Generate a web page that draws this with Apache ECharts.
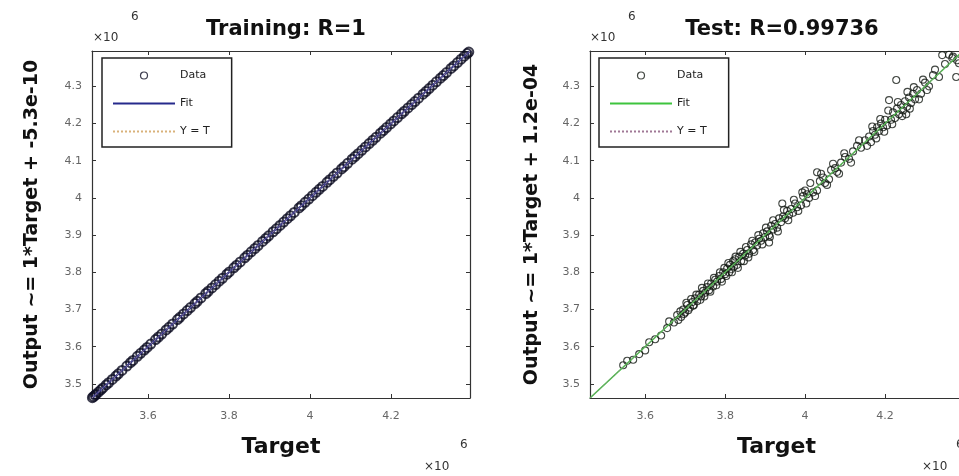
<!DOCTYPE html>
<html>
<head>
<meta charset="utf-8">
<title>Regression: Training and Test</title>
<script src="https://cdn.jsdelivr.net/npm/echarts@6/dist/echarts.min.js"></script>
<style>
  html, body { margin: 0; padding: 0; background: #fff; }
  #chart { width: 959px; height: 476px; }
</style>
</head>
<body>
<div id="chart"></div>
<script>
// All values are in units of 10^6.
const axisMin = 3.462;
const axisMax = 4.395;
const xTicks = [3.6, 3.8, 4.0, 4.2];
const yTicks = [3.5, 3.6, 3.7, 3.8, 3.9, 4.0, 4.1, 4.2, 4.3];

// Training set (R = 1): outputs coincide with targets.
const trainTarget = [3.463,3.466,3.470,3.472,3.478,3.484,3.489,3.497,3.503,3.512,3.521,3.527,3.536,3.548,3.557,3.563,3.574,3.582,3.591,3.598,3.607,3.619,3.626,3.634,3.645,3.652,3.661,3.673,3.679,3.688,3.697,3.705,3.716,3.722,3.731,3.743,3.749,3.758,3.767,3.776,3.784,3.795,3.801,3.812,3.819,3.828,3.839,3.846,3.855,3.864,3.872,3.883,3.891,3.898,3.909,3.917,3.926,3.935,3.944,3.952,3.961,3.973,3.979,3.988,3.997,4.006,4.015,4.023,4.031,4.042,4.049,4.058,4.067,4.078,4.084,4.093,4.104,4.111,4.119,4.128,4.137,4.146,4.155,4.163,4.174,4.181,4.189,4.199,4.207,4.216,4.226,4.233,4.242,4.251,4.259,4.268,4.279,4.286,4.294,4.303,4.312,4.322,4.329,4.337,4.348,4.355,4.364,4.373,4.381,4.388,4.392];
const trainOutput = [3.463,3.466,3.470,3.472,3.478,3.484,3.489,3.497,3.503,3.512,3.521,3.527,3.536,3.548,3.557,3.563,3.574,3.582,3.591,3.598,3.607,3.619,3.626,3.634,3.645,3.652,3.661,3.673,3.679,3.688,3.697,3.705,3.716,3.722,3.731,3.743,3.749,3.758,3.767,3.776,3.784,3.795,3.801,3.812,3.819,3.828,3.839,3.846,3.855,3.864,3.872,3.883,3.891,3.898,3.909,3.917,3.926,3.935,3.944,3.952,3.961,3.973,3.979,3.988,3.997,4.006,4.015,4.023,4.031,4.042,4.049,4.058,4.067,4.078,4.084,4.093,4.104,4.111,4.119,4.128,4.137,4.146,4.155,4.163,4.174,4.181,4.189,4.199,4.207,4.216,4.226,4.233,4.242,4.251,4.259,4.268,4.279,4.286,4.294,4.303,4.312,4.322,4.329,4.337,4.348,4.355,4.364,4.373,4.381,4.388,4.392];

// Test set (R = 0.99736).
const testTarget = [3.545,3.555,3.570,3.585,3.600,3.610,3.625,3.640,3.655,3.660,3.672,3.680,3.690,3.695,3.700,3.705,3.712,3.718,3.720,3.725,3.730,3.735,3.740,3.745,3.750,3.755,3.760,3.765,3.770,3.775,3.780,3.785,3.790,3.795,3.800,3.805,3.810,3.812,3.815,3.820,3.822,3.825,3.830,3.835,3.840,3.845,3.850,3.855,3.860,3.865,3.870,3.875,3.880,3.885,3.890,3.895,3.900,3.905,3.910,3.910,3.915,3.920,3.925,3.930,3.935,3.940,3.943,3.945,3.950,3.955,3.960,3.965,3.970,3.975,3.980,3.990,3.995,4.000,4.005,4.010,4.020,4.030,4.030,4.037,4.045,4.050,4.060,4.065,4.075,4.080,4.090,4.100,4.110,4.120,4.130,4.140,4.150,4.160,4.165,4.170,4.175,4.180,4.185,4.190,4.195,4.200,4.205,4.210,4.215,4.220,4.225,4.228,4.230,4.235,4.240,4.245,4.250,4.253,4.255,4.260,4.265,4.270,4.275,4.280,4.290,4.300,4.310,4.320,4.335,4.343,4.350,4.368,4.370,4.378,4.380,
  3.683,3.688,3.697,3.703,3.708,3.715,3.722,3.728,3.738,3.742,3.748,3.757,3.763,3.772,3.778,3.787,3.792,3.798,3.803,3.808,3.817,3.826,3.832,3.838,3.847,3.852,3.858,3.868,3.873,3.883,3.893,3.902,3.912,3.920,3.932,3.947,3.958,3.972,3.983,3.993,4.003,4.013,4.025,4.040,4.055,4.070,4.085,4.098,4.115,4.135,4.155,4.168,4.178,4.188,4.198,4.208,4.218,4.232,4.243,4.256,4.262,4.272,4.285,4.295,4.305,4.325,4.360,4.385];
const testOutput = [3.550,3.562,3.565,3.580,3.590,3.612,3.620,3.630,3.650,3.668,3.665,3.685,3.680,3.700,3.692,3.712,3.705,3.720,3.710,3.730,3.722,3.740,3.735,3.750,3.745,3.760,3.752,3.770,3.762,3.780,3.775,3.790,3.782,3.800,3.795,3.810,3.800,3.820,3.808,3.830,3.815,3.835,3.820,3.842,3.830,3.850,3.845,3.860,3.850,3.875,3.860,3.880,3.872,3.890,3.885,3.905,3.895,3.910,3.900,3.880,3.925,3.915,3.930,3.920,3.945,3.935,3.985,3.950,3.945,3.965,3.955,3.970,3.960,3.985,3.975,3.980,4.005,4.020,4.010,4.000,4.015,4.020,4.069,4.045,4.055,4.040,4.050,4.075,4.080,4.070,4.095,4.110,4.105,4.125,4.140,4.135,4.155,4.165,4.150,4.180,4.170,4.190,4.180,4.200,4.190,4.210,4.195,4.263,4.210,4.230,4.215,4.317,4.240,4.225,4.250,4.235,4.260,4.225,4.245,4.270,4.255,4.280,4.265,4.290,4.280,4.310,4.300,4.330,4.325,4.384,4.360,4.376,4.380,4.325,4.370,
  3.672,3.695,3.688,3.718,3.698,3.728,3.712,3.740,3.726,3.758,3.735,3.770,3.748,3.785,3.765,3.800,3.775,3.812,3.790,3.825,3.800,3.842,3.812,3.855,3.830,3.868,3.840,3.885,3.855,3.900,3.875,3.920,3.895,3.940,3.910,3.968,3.940,3.995,3.965,4.015,3.985,4.040,4.005,4.065,4.035,4.092,4.065,4.120,4.095,4.155,4.140,4.192,4.160,4.212,4.178,4.235,4.198,4.258,4.220,4.285,4.240,4.298,4.265,4.318,4.290,4.345,4.385,4.362];

// Fit and Y = T lines span the full axis range.
const lineEnds = [axisMin, axisMax];
const trainFit = [axisMin, axisMax];
const testFit = [axisMin + 0.00000000012, axisMax + 0.00000000012];

const pairs = (xs, ys) => xs.map((x, i) => [x, ys[i]]);

const FONT = 'DejaVu Sans';
const FRAME = '#333';

const grids = [
  { left: 92, top: 51, width: 378, height: 347 },
  { left: 590, top: 51, width: 373, height: 347 }
];

function xAxisFor(gridIndex, position, withLabels) {
  return {
    type: 'value', gridIndex, position,
    min: axisMin, max: axisMax,
    name: withLabels ? 'Target' : '',
    nameLocation: 'middle', nameGap: 38,
    nameTextStyle: { fontFamily: FONT, fontWeight: 'bold', fontSize: 22, color: '#111' },
    axisLine: { show: true, onZero: false, lineStyle: { color: FRAME, width: 1.2 } },
    axisTick: { show: true, inside: true, length: 4, customValues: xTicks, lineStyle: { color: FRAME } },
    axisLabel: { show: withLabels, customValues: xTicks, margin: 13, fontFamily: FONT, fontSize: 11, color: '#666' },
    splitLine: { show: false }
  };
}

function yAxisFor(gridIndex, position, withLabels, title, gap) {
  return {
    type: 'value', gridIndex, position,
    min: axisMin, max: axisMax,
    name: withLabels ? title : '',
    nameLocation: 'middle', nameGap: gap,
    nameTextStyle: { fontFamily: FONT, fontWeight: 'bold', fontSize: 19, color: '#111' },
    axisLine: { show: true, onZero: false, lineStyle: { color: FRAME, width: 1.2 } },
    axisTick: { show: true, inside: true, length: 4, customValues: yTicks, lineStyle: { color: FRAME } },
    axisLabel: { show: withLabels, customValues: yTicks, margin: 10, fontFamily: FONT, fontSize: 11, color: '#666' },
    splitLine: { show: false }
  };
}

// Line entries show only their stroke, without a marker in the middle.
const noMarker = { color: 'rgba(0,0,0,0)', borderColor: 'rgba(0,0,0,0)', borderWidth: 0, opacity: 0 };

function legendFor(left, prefix) {
  return {
    orient: 'vertical', left, top: 58,
    data: [
      { name: prefix + ' Data', itemStyle: { borderWidth: 1.2 } },
      { name: prefix + ' Fit', itemStyle: noMarker },
      { name: prefix + ' Y = T', itemStyle: noMarker }
    ],
    formatter: name => name.slice(prefix.length + 1),
    selectedMode: false,
    itemWidth: 62, itemHeight: 7, itemGap: 17,
    padding: [12, 22, 10, 10],
    backgroundColor: '#fff',
    borderColor: '#222', borderWidth: 1.5, borderRadius: 0,
    textStyle: { fontFamily: FONT, fontSize: 11, color: '#222' }
  };
}

const option = {
  animation: false,
  backgroundColor: '#fff',
  title: [
    { text: 'Training: R=1', left: 281, top: 14, textAlign: 'center',
      textStyle: { fontFamily: FONT, fontWeight: 'bold', fontSize: 21, color: '#111' } },
    { text: 'Test: R=0.99736', left: 777, top: 14, textAlign: 'center',
      textStyle: { fontFamily: FONT, fontWeight: 'bold', fontSize: 21, color: '#111' } }
  ],
  legend: [legendFor(102, 'Training'), legendFor(599, 'Test')],
  grid: grids.map(g => Object.assign({ outerBoundsMode: 'none', containLabel: false }, g)),
  xAxis: [
    xAxisFor(0, 'bottom', true), xAxisFor(0, 'top', false),
    xAxisFor(1, 'bottom', true), xAxisFor(1, 'top', false)
  ],
  yAxis: [
    yAxisFor(0, 'left', true, 'Output ~= 1*Target + -5.3e-10', 50), yAxisFor(0, 'right', false, '', 0),
    yAxisFor(1, 'left', true, 'Output ~= 1*Target + 1.2e-04', 48), yAxisFor(1, 'right', false, '', 0)
  ],
  series: [
    { name: 'Training Data', type: 'scatter', xAxisIndex: 0, yAxisIndex: 0,
      symbol: 'circle', symbolSize: 9, clip: false,
      itemStyle: { color: 'rgba(255,255,255,0)', borderColor: '#0c0c22', borderWidth: 2 },
      data: pairs(trainTarget, trainOutput) },
    { name: 'Training Fit', type: 'line', xAxisIndex: 0, yAxisIndex: 0,
      symbol: 'none', showSymbol: false, lineStyle: { color: '#262a8c', width: 2 },
      data: pairs(lineEnds, trainFit) },
    { name: 'Training Y = T', type: 'line', xAxisIndex: 0, yAxisIndex: 0,
      symbol: 'none', showSymbol: false, lineStyle: { color: '#d9b27a', width: 1, type: 'dotted' },
      data: pairs(lineEnds, lineEnds) },
    { name: 'Test Data', type: 'scatter', xAxisIndex: 2, yAxisIndex: 2,
      symbol: 'circle', symbolSize: 7, clip: false,
      itemStyle: { color: 'rgba(255,255,255,0)', borderColor: '#141a14', borderWidth: 1.1 },
      data: pairs(testTarget, testOutput) },
    { name: 'Test Fit', type: 'line', xAxisIndex: 2, yAxisIndex: 2,
      symbol: 'none', showSymbol: false, lineStyle: { color: '#3ec43e', width: 1.6 },
      data: pairs(lineEnds, testFit) },
    { name: 'Test Y = T', type: 'line', xAxisIndex: 2, yAxisIndex: 2,
      symbol: 'none', showSymbol: false, lineStyle: { color: '#a07896', width: 1, type: 'dotted' },
      data: pairs(lineEnds, lineEnds) }
  ],
  graphic: [
    // axis exponent markers
    { type: 'text', left: 93, top: 32, style: { text: '×10', font: '12px "DejaVu Sans"', fill: '#333' } },
    { type: 'text', left: 131, top: 11, style: { text: '6', font: '12px "DejaVu Sans"', fill: '#333' } },
    { type: 'text', left: 424, top: 461, style: { text: '×10', font: '12px "DejaVu Sans"', fill: '#333' } },
    { type: 'text', left: 460, top: 439, style: { text: '6', font: '12px "DejaVu Sans"', fill: '#333' } },
    { type: 'text', left: 590, top: 32, style: { text: '×10', font: '12px "DejaVu Sans"', fill: '#333' } },
    { type: 'text', left: 628, top: 11, style: { text: '6', font: '12px "DejaVu Sans"', fill: '#333' } },
    { type: 'text', left: 922, top: 461, style: { text: '×10', font: '12px "DejaVu Sans"', fill: '#333' } },
    { type: 'text', left: 956, top: 439, style: { text: '6', font: '12px "DejaVu Sans"', fill: '#333' } }
  ]
};

const chart = echarts.init(document.getElementById('chart'), null, { renderer: 'canvas' });
chart.setOption(option);
</script>
</body>
</html>
